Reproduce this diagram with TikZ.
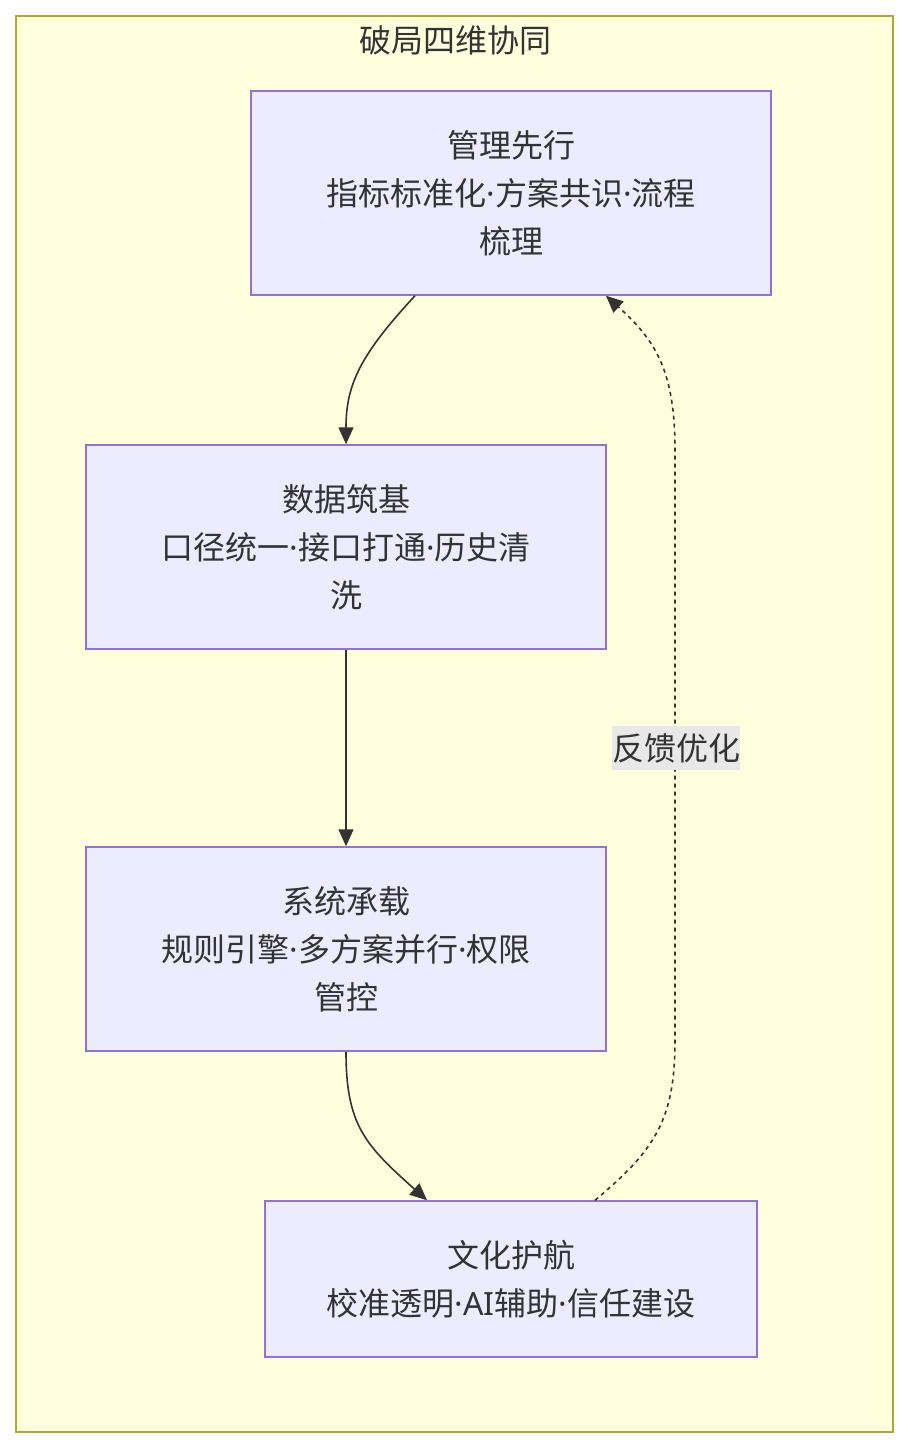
\documentclass[tikz,border=0pt]{standalone}
\usepackage{fontspec}
\setmainfont{Noto Sans CJK SC}
\newfontfamily\latinfont{Noto Sans}
\newcommand\middot{{\latinfont ·}}
\usetikzlibrary{arrows.meta}

\definecolor{clusterfill}{HTML}{FFFFDE}
\definecolor{clusterline}{HTML}{AAAA33}
\definecolor{boxfill}{HTML}{ECECFF}
\definecolor{boxline}{HTML}{9370DB}
\definecolor{ink}{HTML}{333333}
\definecolor{labelbg}{HTML}{E8E8E8}

\begin{document}
\begin{tikzpicture}[x=1pt,y=-1pt,
    stage/.style={draw=boxline,fill=boxfill,line width=1.5pt,minimum width=520pt,
      minimum height=204pt,align=center,text=ink,font=\fontsize{32}{48}\selectfont},
    flow/.style={draw=ink,line width=1.6pt,-{Triangle[length=17pt,width=15pt]}},
    feedback/.style={flow,dash pattern=on 4pt off 4pt}]
\useasboundingbox (0,0) rectangle (909,1448);
\draw[fill=clusterfill,draw=clusterline,line width=1.5pt] (16,16) rectangle (893,1432);
\node[text=ink,font=\fontsize{32}{36}\selectfont] (title) at (455,40) {破局四维协同};
\node[stage] (mgmt) at (511,193) {管理先行\\指标标准化\middot 方案共识\middot 流程\\梳理};
\node[stage] (data) at (346,547) {数据筑基\\口径统一\middot 接口打通\middot 历史清\\洗};
\node[stage] (sys) at (346,949) {系统承载\\规则引擎\middot 多方案并行\middot 权限\\管控};
\node[stage,minimum width=492pt,minimum height=156pt] (culture) at (511,1279) {文化护航\\校准透明\middot{\latinfont AI}辅助\middot 信任建设};
\draw[flow] ([xshift=-96pt]mgmt.south) .. controls (360,355) and (346,385) .. (data.north);
\draw[flow] (data.south) -- (sys.north);
\draw[flow] (sys.south) .. controls (346,1125) and (365,1145) .. ([xshift=-84pt]culture.north);
\draw[feedback] ([xshift=84pt]culture.north) .. controls (655,1150) and (675,1120) .. (675,1040)
  -- (675,450) .. controls (675,370) and (655,340) .. ([xshift=95pt]mgmt.south);
\node[fill=labelbg,text=ink,inner xsep=0pt,inner ysep=7pt,font=\fontsize{32}{36}\selectfont] (loop) at (676,748) {反馈优化};
\end{tikzpicture}
\end{document}
